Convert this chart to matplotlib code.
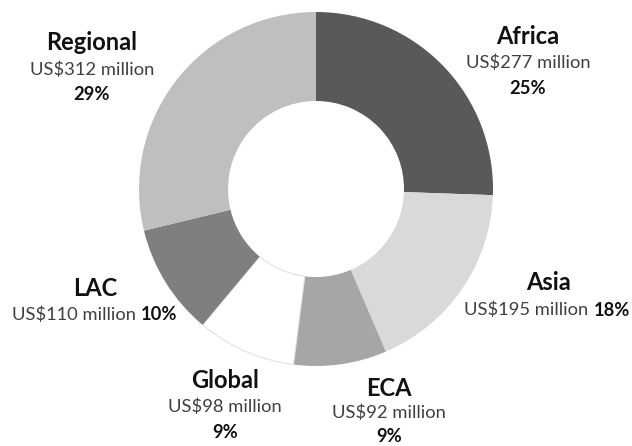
import matplotlib.pyplot as plt

# funding by region, clockwise from 12 o'clock
regions = ['Africa', 'Asia', 'ECA', 'Global', 'LAC', 'Regional']
amounts = [277, 195, 92, 98, 110, 312]
shares = ['25%', '18%', '9%', '9%', '10%', '29%']
colors = ['#595959', '#d9d9d9', '#a6a6a6', '#ffffff', '#7f7f7f', '#bfbfbf']

W, H = 632, 446
plt.rcParams['font.family'] = ['Lato', 'DejaVu Sans']

fig = plt.figure(figsize=(W / 100, H / 100), dpi=100)
ax = fig.add_axes([0, 0, 1, 1])

wedges, _ = ax.pie(amounts, colors=colors, startangle=90, counterclock=False,
                   center=(316, H - 189), radius=177,
                   wedgeprops=dict(width=89, edgecolor='none'))
# faint outline so the white slice still shows on the white page
wedges[regions.index('Global')].set_edgecolor('#e2e2e2')
wedges[regions.index('Global')].set_linewidth(0.8)

# pie resets the limits, so set them afterwards
ax.set_xlim(0, W)
ax.set_ylim(0, H)
ax.axis('off')

FS_T = 17
FS_N = 13.2
C_T = '#111111'
C_N = '#404040'


def money(v):
    return 'US$%d million' % v


# stacked labels: title / amount / share (pixel coords from top-left)
stacked = {'Africa': (528, 36, 63, 89), 'Regional': (92, 42, 70, 95),
           'Global': (225, 380, 407, 432), 'ECA': (389, 389, 413, 436)}
for name, (x, y1, y2, y3) in stacked.items():
    i = regions.index(name)
    ax.text(x, H - y1, name, ha='center', va='center', fontsize=FS_T,
            fontweight='bold', color=C_T)
    ax.text(x, H - y2, money(amounts[i]), ha='center', va='center',
            fontsize=FS_N, color=C_N)
    ax.text(x, H - y3, shares[i], ha='center', va='center',
            fontsize=FS_N, fontweight='bold', color=C_T)

# inline labels: title above, amount + share centred on one line
inline = {'Asia': (549, 283, 310), 'LAC': (95, 288, 315)}
renderer = fig.canvas.get_renderer()
for name, (x, y1, y2) in inline.items():
    i = regions.index(name)
    ax.text(x, H - y1, name, ha='center', va='center', fontsize=FS_T,
            fontweight='bold', color=C_T)
    t1 = ax.text(0, H - y2, money(amounts[i]), ha='left', va='center',
                 fontsize=FS_N, color=C_N)
    t2 = ax.text(0, H - y2, shares[i], ha='left', va='center',
                 fontsize=FS_N, fontweight='bold', color=C_T)
    w1 = t1.get_window_extent(renderer).width
    w2 = t2.get_window_extent(renderer).width
    gap = 5
    left = min(x - (w1 + gap + w2) / 2, W - 2 - (w1 + gap + w2))
    t1.set_x(left)
    t2.set_x(left + w1 + gap)

fig.savefig('out.png', dpi=100, facecolor='white')
